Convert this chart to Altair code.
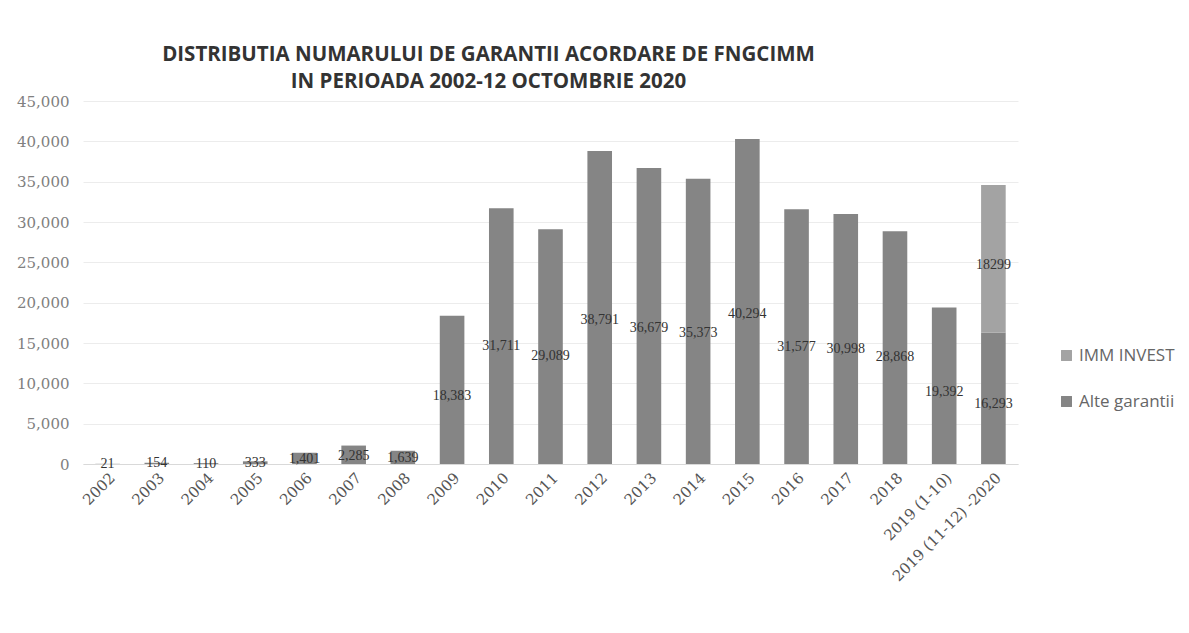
import altair as alt
import pandas as pd

categories = ["2002", "2003", "2004", "2005", "2006", "2007", "2008", "2009", "2010",
              "2011", "2012", "2013", "2014", "2015", "2016", "2017", "2018",
              "2019 (1-10)", "2019 (11-12) -2020"]
alte_garantii = [21, 154, 110, 333, 1401, 2285, 1639, 18383, 31711, 29089, 38791,
                 36679, 35373, 40294, 31577, 30998, 28868, 19392, 16293]
imm_invest = [0, 0, 0, 0, 0, 0, 0, 0, 0, 0, 0, 0, 0, 0, 0, 0, 0, 0, 18299]
series_names = ["IMM INVEST", "Alte garantii"]
series_colors = ["#a3a3a3", "#858585"]

rows = []
for i, c in enumerate(categories):
    rows.append({"cat": c, "series": "Alte garantii", "value": alte_garantii[i], "ord": 1})
    if imm_invest[i] > 0:
        rows.append({"cat": c, "series": "IMM INVEST", "value": imm_invest[i], "ord": 2})
df = pd.DataFrame(rows)

serif = "DejaVu Serif"

base = alt.Chart(df).transform_stack(
    stack="value", groupby=["cat"], as_=["v0", "v1"],
    sort=[alt.SortField("ord", order="ascending")]
).transform_calculate(
    mid="datum.v0 + (datum.v1 - datum.v0) * 0.46",
    lbl="datum.series == 'IMM INVEST' ? format(datum.value, 'd') : format(datum.value, ',')"
)

x_axis = alt.Axis(labelAngle=-45, labelFont=serif, labelFontSize=15,
                  labelColor="#555555", ticks=False, domainColor="#d9d9d9",
                  labelPadding=6)
y_axis = alt.Axis(values=list(range(0, 45001, 5000)), format=",.0f",
                  labelFont=serif, labelFontSize=15, labelColor="#808080",
                  ticks=False, domain=False, gridColor="#ececec",
                  labelPadding=14)
y_scale = alt.Scale(domain=[0, 45000], nice=False)
x_scale = alt.Scale(paddingInner=0.5, paddingOuter=0.25)

bars = base.mark_bar().encode(
    x=alt.X("cat:N", sort=categories, title=None, scale=x_scale, axis=x_axis),
    y=alt.Y("v0:Q", title=None, scale=y_scale, axis=y_axis),
    y2="v1:Q",
    color=alt.Color("series:N", scale=alt.Scale(domain=series_names, range=series_colors),
                    legend=alt.Legend(title=None, orient="none", legendX=975, legendY=246,
                                      labelFont="Open Sans",
                                      labelFontSize=17, labelColor="#666666",
                                      symbolType="square", symbolSize=120,
                                      rowPadding=28, padding=0,
                                      symbolStrokeWidth=0)),
    order=alt.Order("ord:Q"),
)

labels = base.mark_text(font="Liberation Serif", fontSize=14, color="#333333").encode(
    x=alt.X("cat:N", sort=categories, title=None, scale=x_scale, axis=x_axis),
    y=alt.Y("mid:Q", title=None, scale=y_scale, axis=y_axis),
    text="lbl:N",
)

chart = alt.layer(bars, labels).properties(
    width=935, height=363,
    background="white",
    padding={"top": 36, "left": 8, "right": 5, "bottom": 5},
    title=alt.TitleParams(
        text=["DISTRIBUTIA NUMARULUI DE GARANTII ACORDARE DE FNGCIMM",
              "IN PERIOADA 2002-12 OCTOMBRIE 2020"],
        font="Open Sans", fontSize=20.5, fontWeight="bold", color="#333333",
        anchor="middle", dx=-62, offset=2, lineHeight=27),
).configure_view(stroke=None)

chart.save("out.html", embed_options={"renderer": "svg", "actions": False})
